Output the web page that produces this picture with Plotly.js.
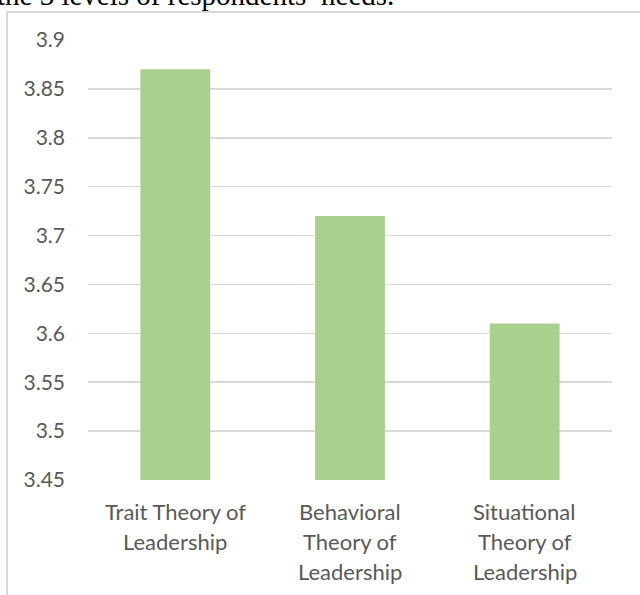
<!DOCTYPE html>
<html>
<head>
<meta charset="utf-8">
<script src="https://cdn.plot.ly/plotly-3.0.1.min.js"></script>
<style>
  html, body { margin: 0; padding: 0; background: #fff; overflow: hidden; }
  #wrap { position: relative; width: 640px; height: 595px; overflow: hidden; }
  #caption { position: absolute; left: -3px; top: -19px; font-family: "Liberation Serif", "Times New Roman", serif; font-size: 29px; line-height: 29px; color: #000; white-space: nowrap; }
  #frame { position: absolute; left: 6px; top: 11px; width: 700px; height: 700px; border-left: 2px solid #d9d9d9; border-top: 2px solid #d9d9d9; box-sizing: border-box; }
  #chart { position: absolute; left: 0; top: 0; width: 640px; height: 595px; }
</style>
</head>
<body>
<div id="wrap">
  <div id="caption">the 3 levels of respondents’ needs.</div>
  <div id="frame"></div>
  <div id="chart"></div>
</div>
<script>
const categories = ["Trait Theory of Leadership", "Behavioral Theory of Leadership", "Situational Theory of Leadership"];
const labelLines = [
  ["Trait Theory of", "Leadership"],
  ["Behavioral", "Theory of", "Leadership"],
  ["Situational", "Theory of", "Leadership"]
];
const values = [3.87, 3.72, 3.61];
const yTickVals = [3.45, 3.5, 3.55, 3.6, 3.65, 3.7, 3.75, 3.8, 3.85, 3.9];
const yTickText = ["3.45", "3.5", "3.55", "3.6", "3.65", "3.7", "3.75", "3.8", "3.85", "3.9"];

const fontFam = "Lato, 'Open Sans', sans-serif";
const textColor = "#595959";

const annotations = [];
labelLines.forEach((lines, i) => {
  lines.forEach((ln, j) => {
    annotations.push({
      x: categories[i], y: 0, xref: "x", yref: "paper",
      text: ln, showarrow: false,
      xanchor: "center", yanchor: "middle",
      yshift: -31 - 30 * j,
      font: { family: fontFam, size: 22, color: textColor }
    });
  });
});

const trace = {
  type: "bar",
  x: categories,
  y: values,
  marker: { color: "#a9d18e" },
  width: 0.4,
  hoverinfo: "none"
};

const layout = {
  width: 640, height: 595,
  margin: { l: 88, r: 28, t: 40, b: 115 },
  paper_bgcolor: "rgba(0,0,0,0)",
  plot_bgcolor: "rgba(0,0,0,0)",
  showlegend: false,
  bargap: 0.6,
  xaxis: {
    type: "category",
    showticklabels: false,
    showgrid: false, zeroline: false, showline: false, ticks: ""
  },
  yaxis: {
    range: [3.45, 3.9],
    tickvals: yTickVals, ticktext: yTickText,
    showgrid: true, gridcolor: "#d9d9d9", gridwidth: 1.5,
    zeroline: false, showline: false, ticks: "",
    ticklabelstandoff: 22,
    tickfont: { family: fontFam, size: 21, color: textColor }
  },
  annotations: annotations
};

Plotly.newPlot("chart", [trace], layout, { displayModeBar: false, staticPlot: true });
</script>
</body>
</html>
